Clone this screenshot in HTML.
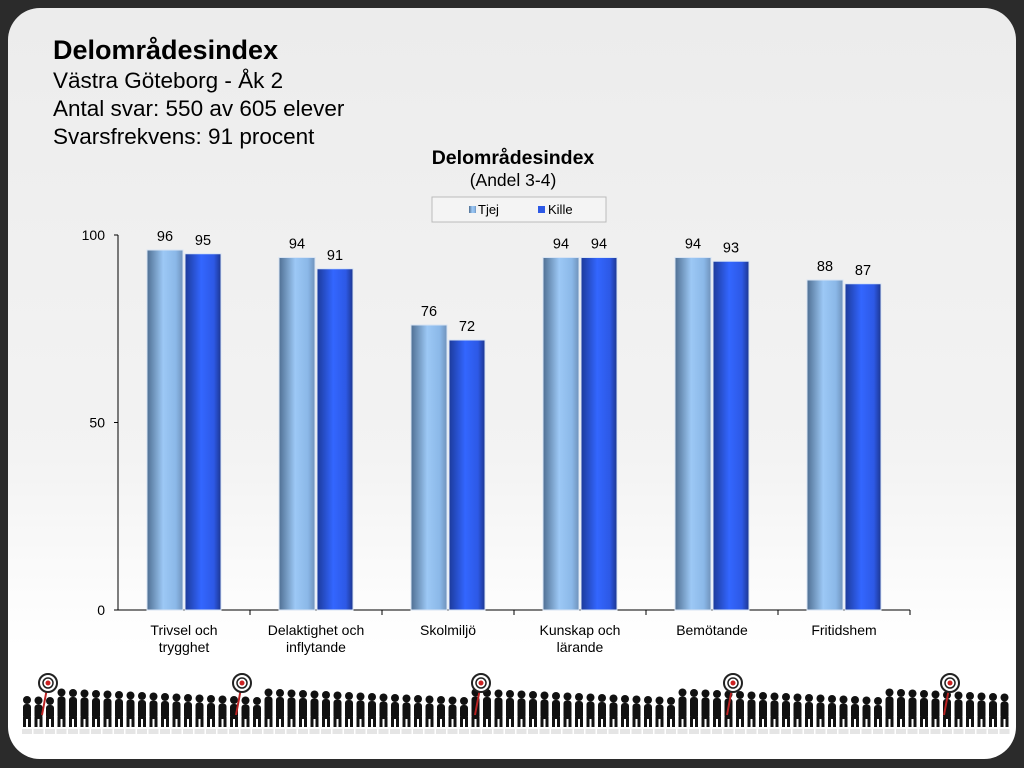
<!DOCTYPE html>
<html><head><meta charset="utf-8"><style>
body{margin:0;width:1024px;height:768px;background:#2b2b2b;overflow:hidden;font-family:"Liberation Sans",sans-serif}
#card{position:absolute;left:8px;top:8px;width:1008px;height:751px;border-radius:32px;background:linear-gradient(#ececec,#f3f3f3 60%,#fff 85%)}
.t{position:absolute;left:53px;color:#000;font-size:22.5px}
</style></head><body>
<div id="card"></div>
<div class="t" style="top:35px;font-size:27px;font-weight:bold">Delområdesindex</div>
<div class="t" style="top:68px">Västra Göteborg - Åk 2</div>
<div class="t" style="top:96px">Antal svar: 550 av 605 elever</div>
<div class="t" style="top:124px">Svarsfrekvens: 91 procent</div>
<svg id="c" width="1024" height="768" style="position:absolute;left:0;top:0">
<defs>
<linearGradient id="g1" x1="0" x2="1"><stop offset="0" stop-color="#4f6f93"/><stop offset=".45" stop-color="#9cc8f5"/><stop offset=".8" stop-color="#8bb8e8"/><stop offset="1" stop-color="#6f92bb"/></linearGradient>
<linearGradient id="g2" x1="0" x2="1"><stop offset="0" stop-color="#1c3a9a"/><stop offset=".45" stop-color="#3366ff"/><stop offset=".8" stop-color="#2d59e6"/><stop offset="1" stop-color="#1d3690"/></linearGradient>
</defs>
<text x="513" y="164" text-anchor="middle" font-size="19.5" font-weight="bold">Delområdesindex</text>
<text x="513" y="186" text-anchor="middle" font-size="17.5">(Andel 3-4)</text>
<g>
<rect x="432" y="197" width="174" height="25" fill="#f4f4f4" stroke="#bbb"/>
<rect x="469" y="206" width="7" height="7" fill="url(#g1)"/><text x="478" y="214" font-size="13">Tjej</text>
<rect x="538" y="206" width="7" height="7" fill="#2d59e6"/><text x="548" y="214" font-size="13">Kille</text>
</g>
<g id="plot"></g>
<g id="people"></g>
</svg>
<script>
const categories=[["Trivsel och","trygghet"],["Delaktighet och","inflytande"],["Skolmiljö"],["Kunskap och","lärande"],["Bemötande"],["Fritidshem"]];
const tjej=[96,94,76,94,94,88];
const kille=[95,91,72,94,93,87];
const yTicks=[0,50,100];
const NS="http://www.w3.org/2000/svg";
const p=document.getElementById('plot');
const X0=118,X1=910,Y0=610,Y100=235;
const y=v=>Y0-(v/100)*(Y0-Y100);
const bw=(X1-X0)/categories.length;
function el(t,a,par){const e=document.createElementNS(NS,t);for(const k in a)e.setAttribute(k,a[k]);(par||p).appendChild(e);return e;}
let ax=el('line',{x1:X0,x2:X0,y1:Y100,y2:Y0,stroke:'#000'});


let bx=el('line',{x1:X0,x2:X1,y1:Y0,y2:Y0,stroke:'#000'});


yTicks.forEach(v=>{el('line',{x1:X0-4,x2:X0,y1:y(v),y2:y(v),stroke:'#000'});
const t=el('text',{x:X0-13,y:y(v)+5,'text-anchor':'end','font-size':14});t.textContent=v;

});
categories.forEach((c,i)=>{
const cx=X0+bw*(i+.5);
el('line',{x1:X0+bw*(i+1),x2:X0+bw*(i+1),y1:Y0,y2:Y0+5,stroke:'#000'});
[[tjej[i],'url(#g1)',cx-37,'bar-tjej'],[kille[i],'url(#g2)',cx+1,'bar-kille']].forEach(([v,f,x,n])=>{
const r=el('rect',{x:x,y:y(v),width:36,height:Y0-y(v),fill:f,stroke:'#d8e4f4','stroke-width':1});


const t=el('text',{x:x+18,y:y(v)-9,'text-anchor':'middle','font-size':14.5});t.textContent=v;

});
c.forEach((s,k)=>{const t=el('text',{x:cx,y:635+k*17,'text-anchor':'middle','font-size':14});t.textContent=s;

});
});
const pg=document.getElementById('people');
for(let x=22;x<1005;x+=11.5){
 const h=26+((x*7)%9);
 el('circle',{cx:x+5,cy:727-h,r:4,fill:'#111'},pg);
 el('rect',{x:x+1,y:731-h,width:8,height:h-12,rx:3,fill:'#111'},pg);
 el('rect',{x:x+1,y:717,width:3,height:10,fill:'#111'},pg);
 el('rect',{x:x+6,y:717,width:3,height:10,fill:'#111'},pg);
 el('rect',{x:x,y:729,width:10,height:5,fill:'#ccc',opacity:.5},pg);
}
[48,242,481,733,950].forEach(cx=>{
 el('line',{x1:cx,y1:683,x2:cx-6,y2:715,stroke:'#b22',"stroke-width":2},pg);
 el('circle',{cx:cx,cy:683,r:9,fill:'#fff',stroke:'#222','stroke-width':2},pg);
 el('circle',{cx:cx,cy:683,r:5,fill:'#fff',stroke:'#222','stroke-width':1.5},pg);
 el('circle',{cx:cx,cy:683,r:2.5,fill:'#c22'},pg);
});
</script>
</body></html>
